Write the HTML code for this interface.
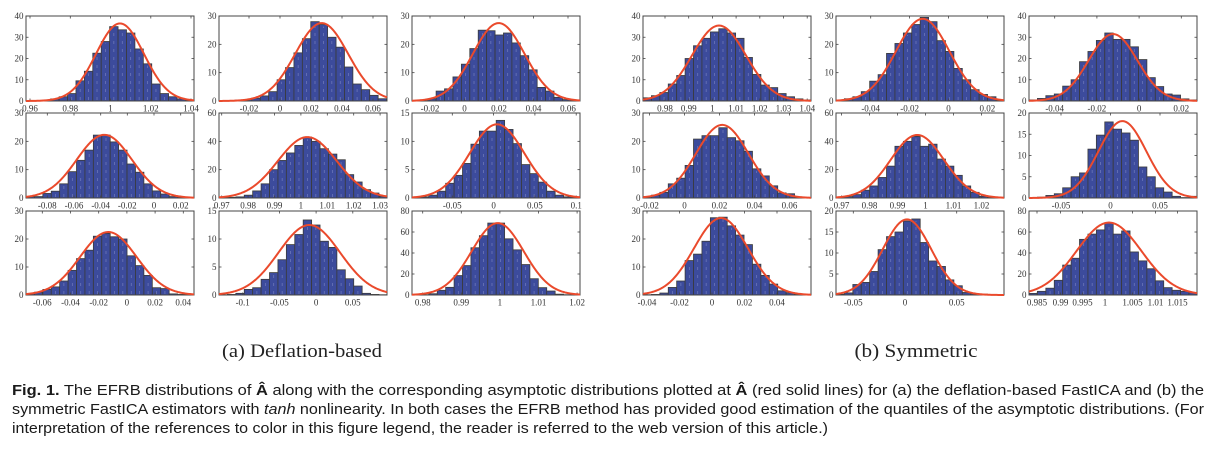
<!DOCTYPE html>
<html><head><meta charset="utf-8">
<style>
html,body{margin:0;padding:0;background:#fff;}
svg{display:block;}
</style></head>
<body>
<svg id="s" width="1220" height="449" xmlns="http://www.w3.org/2000/svg">
<rect x="0" y="0" width="1220" height="449" fill="#fff"/>
<g id="plots"></g>
<text x="302" y="357" text-anchor="middle" font-family="Liberation Serif, serif" font-size="19" fill="#222" textLength="160" lengthAdjust="spacingAndGlyphs">(a) Deflation-based</text>
<text x="916" y="357" text-anchor="middle" font-family="Liberation Serif, serif" font-size="19" fill="#222" textLength="123" lengthAdjust="spacingAndGlyphs">(b) Symmetric</text>
<text x="12" y="395" font-family="Liberation Sans, sans-serif" font-size="14.5" fill="#1a1a1a" textLength="1192" lengthAdjust="spacingAndGlyphs"><tspan font-weight="bold">Fig. 1.</tspan> The EFRB distributions of <tspan font-weight="bold">Â</tspan> along with the corresponding asymptotic distributions plotted at <tspan font-weight="bold">Â</tspan> (red solid lines) for (a) the deflation-based FastICA and (b) the</text>
<text x="12" y="414" font-family="Liberation Sans, sans-serif" font-size="14.5" fill="#1a1a1a" textLength="1192" lengthAdjust="spacingAndGlyphs">symmetric FastICA estimators with <tspan font-style="italic">tanh</tspan> nonlinearity. In both cases the EFRB method has provided good estimation of the quantiles of the asymptotic distributions. (For</text>
<text x="12" y="433" font-family="Liberation Sans, sans-serif" font-size="14.5" fill="#1a1a1a" textLength="816" lengthAdjust="spacingAndGlyphs">interpretation of the references to color in this figure legend, the reader is referred to the web version of this article.)</text>
</svg>
<script>
(function(){
var rows=[[16,85],[113,85],[211,84]];
var W=168, BW=8.42;
var P=[
 [26,0,40,[0,10,20,30,40],24.7,[1,2,3.5,9.5,14,22.5,28,35,33.5,32,24.5,17.5,8,3.5,2,1,0.5],94,24,36.5,
   [[4,'0.96'],[44.3,'0.98'],[84.5,'1'],[124.8,'1.02'],[165,'1.04']]],
 [219,0,30,[0,10,20,30],16,[0.3,0.5,1,1.8,3.3,7.5,11.8,17,22,28,27,22.5,19,12,6,4,2,0.8],102.7,26.4,27.5,
   [[30,'-0.02'],[61,'0'],[92,'0.02'],[123,'0.04'],[154,'0.06']]],
 [412,0,30,[0,10,20,30],15.7,[0.8,3.5,4.3,8.5,13,18.5,25,24.8,23.3,24,20.5,16,11,4.8,3.5,1.3,0.5,0.2],86.7,25.8,27.5,
   [[18,'-0.02'],[52.5,'0'],[87,'0.02'],[121.5,'0.04'],[156,'0.06']]],
 [643,0,40,[0,10,20,30,40],0,[1.5,2.5,4,8,12,20,26,29.5,32.5,34,32,29.5,20.5,12.5,7.5,6.3,3.5,2,1,0.5],76,26.9,35.5,
   [[22,'0.98'],[45.7,'0.99'],[69.4,'1'],[93.1,'1.01'],[116.8,'1.02'],[140.5,'1.03'],[164.2,'1.04']]],
 [836,0,30,[0,10,20,30],0,[0.3,0.8,1.5,3.3,7,9.3,16.8,20.3,24,27,29.5,28,21.3,17.5,11.5,7.5,4,2.3,1.5,0.3],86.7,26.7,29,
   [[34.7,'-0.04'],[73.6,'-0.02'],[112.5,'0'],[151.4,'0.02']]],
 [1029,0,40,[0,10,20,30,40],0,[0.5,1.2,2.5,3.3,7,10,18.5,23.3,28.5,32,29,29,25.5,19.5,11,6.8,3.3,2.8,1,0.5],84,24.4,31.5,
   [[25.7,'-0.04'],[67.9,'-0.02'],[110.1,'0'],[152.3,'0.02']]],

 [26,1,30,[0,10,20,30],0,[0.5,0.5,1.6,2.4,5,9.3,13.3,16.9,22.2,22.2,19.8,16.9,12,9.1,5,2.5,1.4,0.5,0.3,0.2],78.3,27.6,22.3,
   [[21.3,'-0.08'],[48,'-0.06'],[74.7,'-0.04'],[101.3,'-0.02'],[128,'0'],[154.7,'0.02']]],
 [219,1,60,[0,20,40,60],0,[0.3,0.5,0.8,2,5,10,20,26.5,31.8,37.1,43,40,34.8,31,27,16.5,11.3,5.9,3.5,1.2],88.3,29.5,43,
   [[2.7,'0.97'],[29.1,'0.98'],[55.5,'0.99'],[81.9,'1'],[108.3,'1.01'],[134.7,'1.02'],[161.1,'1.03']]],
 [412,1,15,[0,5,10,15],0,[0.1,0.2,0.5,1.2,2.6,4,6.1,9.5,11.8,11.8,13.7,12.1,9.6,5.9,4.3,2.8,1.2,0.5,0.2,0.1],85,27.4,13,
   [[40.3,'-0.05'],[81.6,'0'],[122.9,'0.05'],[164.2,'0.1']]],
 [643,1,30,[0,10,20,30],0,[0.5,1,2,5,7,11.5,20.8,22,22,24.8,21.3,20.2,16.5,10.3,7.8,4.3,1.8,1.5,0.3,0.1],79.2,26.3,25.8,
   [[6.5,'-0.02'],[41.5,'0'],[76.5,'0.02'],[111.5,'0.04'],[146.5,'0.06']]],
 [836,1,60,[0,20,40,60],0,[0.3,1,2.4,5.5,8.5,14.5,22.5,36.5,40,43.5,36.5,38,27.5,22.5,16,8.5,4,1.2,0.5,0.2],81.3,26.6,44.5,
   [[5.5,'0.97'],[33.5,'0.98'],[61.5,'0.99'],[89.5,'1'],[117.5,'1.01'],[145.5,'1.02']]],
 [1029,1,20,[0,5,10,15,20],0,[0.1,0.2,0.6,1,2.4,5,5.9,11.5,14.8,17.9,16.2,15.3,13.6,7.3,5,2.4,1.4,0.4,0.1,0.4],93.4,24,18.1,
   [[32,'-0.05'],[81.5,'0'],[131,'0.05']]],

 [26,2,30,[0,10,20,30],0,[0.5,1,2,2.9,5,8.8,13,16,21,22,20.8,20,14,10.5,7,2.6,2.3,0.4,0.2,0.1],82.3,28.2,22.5,
   [[16.3,'-0.06'],[44.5,'-0.04'],[72.7,'-0.02'],[100.9,'0'],[129.1,'0.02'],[157.3,'0.04']]],
 [219,2,15,[0,5,10,15],0,[0.05,0.1,0.3,1,1.3,2.8,4,6.3,9,10.8,13.4,12.5,9.6,8.5,4.5,2.9,1.6,0.3,0.1,0.05],90.3,30.8,12.5,
   [[23.7,'-0.1'],[60.4,'-0.05'],[97.1,'0'],[133.8,'0.05']]],
 [412,2,80,[0,20,40,60,80],0,[0.2,0.3,1.2,4.5,7.3,18.5,28,45,56.5,68.5,68.5,53.5,43,29,15.5,7,3.8,0.8,0.3,0.1],85.7,26.1,68.5,
   [[10.7,'0.98'],[49.3,'0.99'],[87.9,'1'],[126.5,'1.01'],[165.1,'1.02']]],
 [643,2,30,[0,10,20,30],0,[0.1,0.2,0.7,2.7,5,12.3,14.6,19.2,27.6,27.8,24.7,21.4,18,11,7,3.9,1.5,0.8,0.3,0.1],78,27,27.5,
   [[4,'-0.04'],[36.5,'-0.02'],[69,'0'],[101.5,'0.02'],[134,'0.04']]],
 [836,2,20,[0,5,10,15,20],0,[0.2,0.5,2.5,3,5.6,10.8,13.9,15,17.6,18.1,12.5,8.1,6.8,3.6,2.2,0.6,0.3,0.2,0.1,0],71,24.2,18,
   [[17.3,'-0.05'],[69,'0'],[120.7,'0.05']]],
 [1029,2,80,[0,20,40,60,80],0,[1.5,3.5,6.5,14,28.5,35,53,58,62,68.5,58,61,41,32.5,25,13.5,7,4.5,3.5,2.5],80,32.5,69,
   [[8,'0.985'],[31.5,'0.99'],[53.5,'0.995'],[76,'1'],[103.5,'1.005'],[126.5,'1.01'],[148.5,'1.015']]]
];
var s='';
var F='font-family="Liberation Serif, serif" font-size="9" fill="#333"';
P.forEach(function(p){
  var L=p[0],r=p[1],ymax=p[2],yt=p[3],b0=p[4],H=p[5],mu=p[6],sig=p[7],pk=p[8],xl=p[9];
  var T=rows[r][0],h=rows[r][1],B=T+h,R=L+W;
  function Y(v){return B-v/ymax*h;}
  H.forEach(function(v,i){
    if(v<=0)return;
    var x=L+b0+i*BW; var w=Math.min(BW,R-x); if(w<=0)return;
    var y=Y(v);
    s+='<rect x="'+x.toFixed(2)+'" y="'+y.toFixed(2)+'" width="'+w.toFixed(2)+'" height="'+(B-y).toFixed(2)+'" fill="#3c4b9c" stroke="#3a3a3a" stroke-width="0.8"/>';
    if(B-y>6){
      var cx=x+w/2;
      s+='<line x1="'+cx.toFixed(2)+'" y1="'+(B-1)+'" x2="'+cx.toFixed(2)+'" y2="'+(y+2).toFixed(2)+'" stroke="#a7aedb" stroke-opacity="0.5" stroke-width="0.7" stroke-dasharray="3,5"/>';
    }
  });
  s+='<rect x="'+L+'" y="'+T+'" width="'+W+'" height="'+h+'" fill="none" stroke="#444" stroke-width="1"/>';
  yt.forEach(function(v){
    var y=Y(v);
    s+='<line x1="'+L+'" y1="'+y+'" x2="'+(L+2.5)+'" y2="'+y+'" stroke="#444" stroke-width="0.8"/>';
    s+='<line x1="'+R+'" y1="'+y+'" x2="'+(R-2.5)+'" y2="'+y+'" stroke="#444" stroke-width="0.8"/>';
    s+='<text x="'+(L-2.5)+'" y="'+(y+3).toFixed(1)+'" text-anchor="end" '+F+'>'+v+'</text>';
  });
  xl.forEach(function(q){
    var x=L+q[0];
    s+='<line x1="'+x+'" y1="'+B+'" x2="'+x+'" y2="'+(B-2.5)+'" stroke="#444" stroke-width="0.8"/>';
    s+='<line x1="'+x+'" y1="'+T+'" x2="'+x+'" y2="'+(T+2.5)+'" stroke="#444" stroke-width="0.8"/>';
    s+='<text x="'+x+'" y="'+(B+10.5)+'" text-anchor="middle" '+F+'>'+q[1]+'</text>';
  });
  var d='';
  for(var x=0;x<=W;x+=1){
    var v=pk*Math.exp(-((x-mu)*(x-mu))/(2*sig*sig));
    d+=(x?'L':'M')+(L+x).toFixed(1)+' '+Y(v).toFixed(2);
  }
  s+='<path d="'+d+'" fill="none" stroke="#ea4a2c" stroke-width="2" stroke-linejoin="round"/>';
});
document.getElementById('plots').innerHTML=s;
})();
</script>
</body></html>
